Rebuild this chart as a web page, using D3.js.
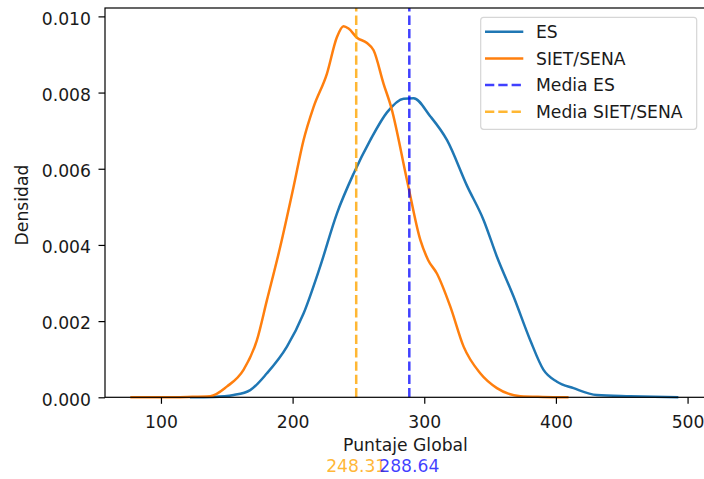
<!DOCTYPE html>
<html><head><meta charset="utf-8">
<script src="https://cdn.jsdelivr.net/npm/d3@7"></script>
<style>body{margin:0;background:#fff}svg{display:block}text{font-family:"DejaVu Sans",sans-serif;}</style>
</head><body><div id="chart"></div>
<script>
const seriesNames = ["ES", "SIET/SENA"];
const esX = [122,140,155.2,167.8,180.5,195.7,208.3,220.9,233.7,246.3,259,271.7,284.3,291.9,304.5,317.3,332.5,345.1,355.2,367.9,380.5,390.6,400.8,413.4,431.1,456.5,493];
const esY = [0,0.00001,0.00006,0.00019,0.00063,0.00133,0.0022,0.00343,0.00483,0.00587,0.00675,0.00748,0.00784,0.00785,0.00738,0.00675,0.00555,0.00465,0.00369,0.00264,0.0015,0.00072,0.00041,0.00024,0.00006,0.00003,0];
const senaX = [76.7,100,120,137.5,150,162.7,172.9,180.5,190.6,200.7,208.3,215.9,226.1,233.7,238.7,242.5,248.9,256.5,261.5,269.1,275,286.9,297,303,309.6,319.8,329.9,342.5,355.2,373,390,409.6];
const senaY = [0,0,0.00001,0.00003,0.00028,0.00072,0.0015,0.00255,0.00395,0.00552,0.00675,0.00762,0.0085,0.00946,0.00974,0.00968,0.00944,0.0093,0.00911,0.00823,0.0076,0.0057,0.00413,0.0036,0.00325,0.00238,0.00133,0.00063,0.00024,0.00003,0.00001,0];
const meanNames = ["Media ES", "Media SIET/SENA"];
const meanValues = [288.64, 248.31];
const meanLabels = ["288.64", "248.31"];
const xTicks = [100, 200, 300, 400, 500];
const yTicks = [0, 0.002, 0.004, 0.006, 0.008, 0.010];

const W = 704, H = 479;
const svg = d3.select("#chart").append("svg").attr("width", W).attr("height", H);
const x = d3.scaleLinear().domain([57.5, 514]).range([105, 706]);
const y = d3.scaleLinear().domain([0, 0.01022]).range([397.3, 8]);
const FS = 17.2;
const TXT = "#1a1a1a";

// lines
const line = d3.line().x(d => x(d[0])).y(d => y(d[1])).curve(d3.curveMonotoneX);
const esData = esX.map((v, i) => [v, esY[i]]);
const senaData = senaX.map((v, i) => [v, senaY[i]]);
svg.append("path").datum(esData).attr("d", line).attr("fill", "none").attr("stroke", "#1f77b4").attr("stroke-width", 2.5);
svg.append("path").datum(senaData).attr("d", line).attr("fill", "none").attr("stroke", "#ff7f0e").attr("stroke-width", 2.5);

const meanColors = ["rgba(0,0,255,0.75)", "rgba(255,165,0,0.8)"];
meanValues.forEach((m, i) => {
  svg.append("line").attr("x1", x(m)).attr("x2", x(m)).attr("y1", y.range()[0]).attr("y2", y.range()[1])
    .attr("stroke", meanColors[i]).attr("stroke-width", 2.5).attr("stroke-dasharray", "9.3,4");
});

// axes
const xAxis = d3.axisBottom(x).tickValues(xTicks).tickSize(6.5).tickPadding(12).tickFormat(d3.format("d"));
const gx = svg.append("g").attr("transform", `translate(0,${y(0)})`).call(xAxis);
const yAxis = d3.axisLeft(y).tickValues(yTicks).tickSize(6.5).tickPadding(7.5).tickFormat(d3.format(".3f"));
const gy = svg.append("g").attr("transform", `translate(${x.range()[0]},0)`).call(yAxis);
[gx, gy].forEach(g => {
  g.selectAll("path.domain").remove();
  g.selectAll("line").attr("stroke", "#000").attr("stroke-width", 1.2);
  g.selectAll("text").attr("font-size", FS).attr("fill", TXT).attr("font-family", "DejaVu Sans");
});
gy.selectAll("text").attr("dy", "0.45em");
// spines
svg.append("rect").attr("x", x.range()[0]).attr("y", y.range()[1]).attr("width", x.range()[1] - x.range()[0]).attr("height", y.range()[0] - y.range()[1])
  .attr("fill", "none").attr("stroke", "#000").attr("stroke-width", 1.2);

// labels
svg.append("text").attr("x", (x.range()[0] + x.range()[1]) / 2).attr("y", 450.5).attr("text-anchor", "middle").attr("font-size", FS).attr("fill", TXT).text("Puntaje Global");
svg.append("text").attr("transform", "translate(28,205) rotate(-90)").attr("text-anchor", "middle").attr("font-size", FS).attr("fill", TXT).text("Densidad");

// mean value texts
[1, 0].forEach(i => {
  svg.append("text").attr("x", x(meanValues[i])).attr("y", 472).attr("text-anchor", "middle").attr("font-size", FS)
    .attr("fill", meanColors[i]).text(meanLabels[i]);
});

// legend
const lg = svg.append("g");
lg.append("rect").attr("x", 480.7).attr("y", 17.3).attr("width", 216).attr("height", 112).attr("rx", 3)
  .attr("fill", "rgba(255,255,255,0.8)").attr("stroke", "#d6d6d6").attr("stroke-width", 1.2);
const legendItems = [
  {name: seriesNames[0], color: "#1f77b4", dash: null},
  {name: seriesNames[1], color: "#ff7f0e", dash: null},
  {name: meanNames[0], color: meanColors[0], dash: "9.3,4"},
  {name: meanNames[1], color: meanColors[1], dash: "9.3,4"}
];
legendItems.forEach((it, i) => {
  const yy = 31.7 + i * 26.7;
  const l = lg.append("line").attr("x1", 485).attr("x2", 523.3).attr("y1", yy).attr("y2", yy).attr("stroke", it.color).attr("stroke-width", 2.5);
  if (it.dash) l.attr("stroke-dasharray", it.dash);
  lg.append("text").attr("x", 536).attr("y", yy).attr("dy", "0.36em").attr("font-size", FS).attr("fill", TXT).text(it.name);
});
</script></body></html>
